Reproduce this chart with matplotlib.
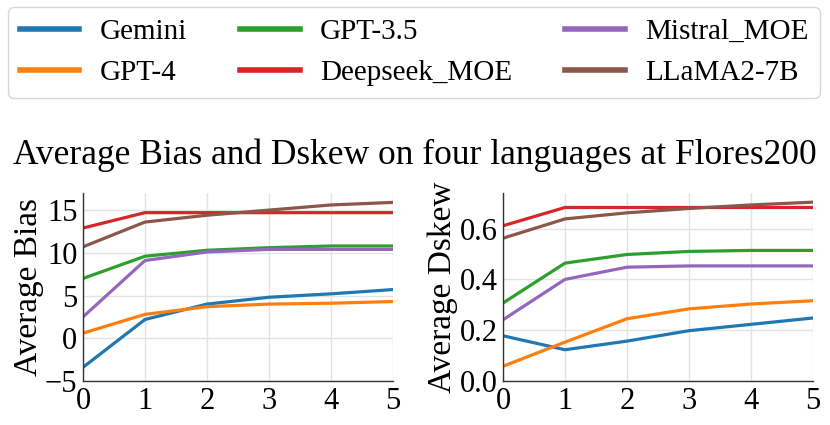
import numpy as np
import matplotlib
matplotlib.use("Agg")
import matplotlib.pyplot as plt

plt.rcParams['font.family'] = ['Liberation Serif', 'DejaVu Serif']

steps = [0, 1, 2, 3, 4, 5]
models = ["Gemini", "GPT-4", "GPT-3.5", "Deepseek_MOE", "Mistral_MOE", "LLaMA2-7B"]
colors = ["#1f77b4", "#ff7f0e", "#2ca02c", "#d62728", "#9467bd", "#8c564b"]

# Average Bias
bias_gemini = [-3.4, 2.2, 4.0, 4.8, 5.2, 5.7]
bias_gpt4 = [0.6, 2.8, 3.7, 4.0, 4.1, 4.3]
bias_gpt35 = [7.0, 9.6, 10.3, 10.6, 10.8, 10.8]
bias_deepseek = [12.9, 14.7, 14.7, 14.7, 14.7, 14.7]
bias_mistral = [2.5, 9.1, 10.1, 10.4, 10.4, 10.4]
bias_llama = [10.7, 13.6, 14.4, 15.0, 15.6, 15.9]

# Average Dskew
dskew_gemini = [0.178, 0.123, 0.157, 0.198, 0.223, 0.248]
dskew_gpt4 = [0.058, 0.153, 0.245, 0.284, 0.303, 0.316]
dskew_gpt35 = [0.307, 0.464, 0.498, 0.510, 0.514, 0.514]
dskew_deepseek = [0.611, 0.683, 0.683, 0.683, 0.683, 0.683]
dskew_mistral = [0.241, 0.400, 0.448, 0.453, 0.453, 0.453]
dskew_llama = [0.562, 0.638, 0.662, 0.679, 0.693, 0.704]

bias = [bias_gemini, bias_gpt4, bias_gpt35, bias_deepseek, bias_mistral, bias_llama]
dskew = [dskew_gemini, dskew_gpt4, dskew_gpt35, dskew_deepseek, dskew_mistral, dskew_llama]

fig = plt.figure(figsize=(8.3, 4.25), dpi=100)
W, H = 830, 425
ax1 = fig.add_axes([83 / W, 1 - 381 / H, 310 / W, 188 / H])
ax2 = fig.add_axes([503 / W, 1 - 381 / H, 310 / W, 188 / H])

for ax, data, ylab, ylim, yt in [
    (ax1, bias, "Average Bias", (-5, 17), [-5, 0, 5, 10, 15]),
    (ax2, dskew, "Average Dskew", (0, 0.74), [0.0, 0.2, 0.4, 0.6]),
]:
    for name, vals, c in zip(models, data, colors):
        ax.plot(steps, vals, color=c, lw=2.3, label=name)
    ax.set_xlim(0, 5)
    ax.set_ylim(*ylim)
    ax.set_xticks(steps)
    ax.set_yticks(yt)
    if ax is ax2:
        ax.set_yticklabels([f"{v:.1f}" for v in yt])
    ax.set_ylabel(ylab, fontsize=24, labelpad=1)
    ax.tick_params(labelsize=22, length=0, pad=4)
    ax.grid(True, color="#e3e3e3", lw=1)
    ax.set_axisbelow(True)
    for s in ["top", "right"]:
        ax.spines[s].set_visible(False)
    for s in ["left", "bottom"]:
        ax.spines[s].set_color("#333333")
        ax.spines[s].set_linewidth(1.0)

fig.text(0.5, 1 - 155 / H, "Average Bias and Dskew on four languages at Flores200",
         ha="center", va="center", fontsize=25.5)

handles, labels = ax1.get_legend_handles_labels()
leg = fig.legend(handles, labels, ncol=3, loc="lower left",
                 bbox_to_anchor=(8 / W, 1 - 98 / H, 812 / W, 90 / H), mode="expand",
                 fontsize=21, handlelength=2.05, handletextpad=0.7, frameon=True,
                 fancybox=True, edgecolor="#cccccc", borderaxespad=0,
                 labelspacing=0.5, borderpad=0.4)
for line in leg.get_lines():
    line.set_linewidth(4)

fig.savefig("out.png", dpi=100)
